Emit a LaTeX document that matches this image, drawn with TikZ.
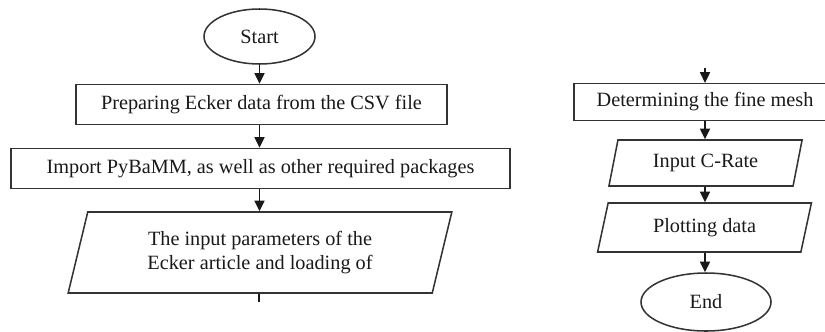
\documentclass[tikz,border=0pt]{standalone}
\usepackage{fontspec}
\setmainfont{Liberation Serif}
\usetikzlibrary{shapes.geometric,arrows.meta}
\begin{document}
\begin{tikzpicture}[x=0.03cm,y=-0.03cm,>={Triangle[length=0.32cm,width=0.3cm]},
    every node/.style={font=\fontsize{17.3}{19.8}\selectfont,text=black!90,inner sep=0pt},
    term/.style={draw=black!80,line width=1.3pt,ellipse},
    proc/.style={draw=black!80,line width=1.3pt,rectangle},
    io/.style={draw=black!80,line width=1.3pt,trapezium,trapezium stretches,
        trapezium left angle=73,trapezium right angle=107,align=center},
    flow/.style={draw=black!90,line width=1.4pt}]
    \useasboundingbox (0,0) rectangle (825,331);
    % left column
    \node[term,minimum width=3.33cm,minimum height=1.65cm] (start) at (259.5,36.5) {Start};
    \node[proc,minimum width=11.13cm,minimum height=1.2cm] (prep) at (261.5,104.5) {Preparing Ecker data from the CSV file};
    \node[proc,minimum width=14.97cm,minimum height=1.2cm] (import) at (260.5,168.5) {Import PyBaMM, as well as other required packages};
    \node[io,minimum width=11.52cm,minimum height=2.43cm] (param) at (260,252.5) {The input parameters of the\\Ecker article and loading of};
    \coordinate (cut) at (259,302);
    \draw[flow,->] (start.south) -- (start.south |- prep.north);
    \draw[flow,->] (prep.south -| start.south) -- (start.south |- import.north);
    \draw[flow,->] (import.south -| start.south) -- (start.south |- param.north);
    \draw[flow] (param.south -| cut) -- (cut);
    % right column
    \node[proc,minimum width=7.86cm,minimum height=1.1cm] (mesh) at (705,102) {Determining the fine mesh};
    \node[io,minimum width=5.85cm,minimum height=1.38cm] (crate) at (705.5,163) {Input C-Rate};
    \node[io,minimum width=6.45cm,minimum height=1.47cm] (plot) at (704.5,227.5) {Plotting data};
    \node[term,minimum width=3.9cm,minimum height=1.74cm] (end) at (706,302) {End};
    \coordinate (top) at (705,68);
    \draw[flow,->] (top) -- (top |- mesh.north);
    \draw[flow,->] (mesh.south -| top) -- (top |- crate.north);
    \draw[flow,->] (crate.south -| top) -- (top |- plot.north);
    \draw[flow,->] (plot.south -| top) -- (top |- end.north);
\end{tikzpicture}
\end{document}
